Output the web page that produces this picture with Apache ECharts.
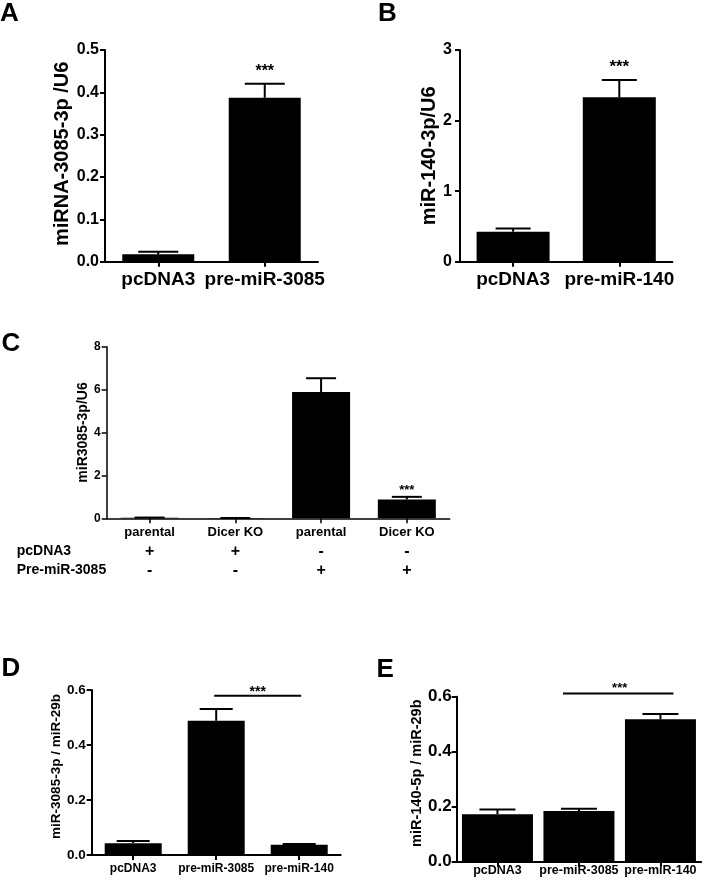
<!DOCTYPE html>
<html>
<head>
<meta charset="utf-8">
<script src="https://cdn.jsdelivr.net/npm/echarts@6/dist/echarts.min.js"></script>
<style>
html,body{margin:0;padding:0;background:#fff;}
#chart{width:708px;height:882px;}
</style>
</head>
<body>
<div id="chart"></div>
<script>
// ---------- DATA ----------
// Panel A
const catA = ['pcDNA3', 'pre-miR-3085'];
const meanA = [0.0175, 0.387];
const semA = [0.006, 0.033];
const starsA = ['', '***'];
const yTicksA = {min: 0, max: 0.5, interval: 0.1};
// Panel B
const catB = ['pcDNA3', 'pre-miR-140'];
const meanB = [0.425, 2.33];
const semB = [0.045, 0.245];
const starsB = ['', '***'];
const yTicksB = {min: 0, max: 3, interval: 1};
// Panel C
const catC = ['parental', 'Dicer KO', 'parental', 'Dicer KO'];
const meanC = [0.03, 0.01, 5.89, 0.88];
const semC = [0.005, 0.003, 0.64, 0.12];
const starsC = ['', '', '', '***'];
const rowTitlesC = ['pcDNA3', 'Pre-miR-3085'];
const rowPcDNA3 = ['+', '+', '-', '-'];
const rowPreMiR = ['-', '-', '+', '+'];
const yTicksC = {min: 0, max: 8, interval: 2};
// Panel D
const catD = ['pcDNA3', 'pre-miR-3085', 'pre-miR-140'];
const meanD = [0.043, 0.488, 0.037];
const semD = [0.008, 0.043, 0.003];
const sigD = [[1, 2, 0.579]];
const yTicksD = {min: 0, max: 0.6, interval: 0.2};
// Panel E
const catE = ['pcDNA3', 'pre-miR-3085', 'pre-miR-140'];
const meanE = [0.173, 0.184, 0.518];
const semE = [0.017, 0.009, 0.019];
const sigE = [[1, 2, 0.612]];
const yTicksE = {min: 0, max: 0.6, interval: 0.2};
// Labels
const panelLetters = ['A', 'B', 'C', 'D', 'E'];
const yTitles = ['miRNA-3085-3p /U6', 'miR-140-3p/U6', 'miR3085-3p/U6', 'miR-3085-3p / miR-29b', 'miR-140-5p / miR-29b'];

// ---------- RENDERING ----------
const FONT = "'Liberation Sans', Arial, Helvetica, sans-serif";
const chart = echarts.init(document.getElementById('chart'), null, {renderer: 'canvas'});

const panels = [
  {cat: catA, mean: meanA, sem: semA, stars: starsA, ticks: yTicksA, dec: 1,
   grid: {left: 105, top: 50, width: 213, height: 211.7},
   barW: 72, capW: 40, axisW: 2, tickFont: 16, catFont: 19, catMargin: 9, titleFont: 20, nameGap: 28,
   starFont: 16, starGap: 16, yMargin: 6, namePad: [0, 0, 0, 4]},
  {cat: catB, mean: meanB, sem: semB, stars: starsB, ticks: yTicksB, dec: 0,
   grid: {left: 460, top: 50, width: 212.4, height: 211.7},
   barW: 73, capW: 35, axisW: 2, tickFont: 16, catFont: 19, catMargin: 9, titleFont: 20, nameGap: 15,
   starFont: 17, starGap: 16.3, yMargin: 8, namePad: [0, 0, 0, 0]},
  {cat: catC, mean: meanC, sem: semC, stars: starsC, ticks: yTicksC, dec: 0,
   grid: {left: 106.7, top: 346.7, width: 343, height: 171.6},
   barW: 58, capW: 30, axisW: 1.5, tickFont: 12, catFont: 13, catMargin: 4, titleFont: 14, nameGap: 17,
   starFont: 13, starGap: 9.2, yMargin: 6, table: true, namePad: [0, 0, 0, 0]},
  {cat: catD, mean: meanD, sem: semD, stars: null, ticks: yTicksD, dec: 1, sig: sigD,
   grid: {left: 91.7, top: 690, width: 249, height: 165},
   barW: 57, capW: 33, axisW: 2, tickFont: 13.5, catFont: 12, catMargin: 8, titleFont: 13.5, nameGap: 27,
   starFont: 14, sigGap: 6.4, sigExt: [2, 2], yMargin: 6, namePad: [0, 0, 0, 12]},
  {cat: catE, mean: meanE, sem: semE, stars: null, ticks: yTicksE, dec: 1, sig: sigE,
   grid: {left: 456.7, top: 696.7, width: 244.5, height: 165},
   barW: 71, capW: 36, axisW: 2, tickFont: 17, catFont: 12.5, catMargin: 2, titleFont: 14.5, nameGap: 22,
   starFont: 13, sigGap: 8.3, sigExt: [16, 13], yMargin: 5, namePad: [0, 0, 0, 12]}
];

const grids = [], xAxes = [], yAxes = [], series = [];

panels.forEach((p, k) => {
  grids.push(Object.assign({containLabel: false}, p.grid));
  const xAxis = {
    type: 'category', gridIndex: k, data: p.cat,
    axisLine: {show: true, lineStyle: {color: '#000', width: p.axisW}},
    axisTick: {show: true, alignWithLabel: true, length: 5, lineStyle: {color: '#000', width: p.axisW}},
    axisLabel: {interval: 0, hideOverlap: false, margin: p.catMargin, color: '#000',
      fontFamily: FONT, fontWeight: 'bold', fontSize: p.catFont},
    splitLine: {show: false}
  };
  if (p.table) {
    xAxis.axisLabel.formatter = function (v, i) {
      return '{c|' + v + '}\n{s|' + rowPcDNA3[i] + '}\n{s|' + rowPreMiR[i] + '}';
    };
    xAxis.axisLabel.rich = {
      c: {fontFamily: FONT, fontWeight: 'bold', fontSize: p.catFont, lineHeight: 19.5, color: '#000'},
      s: {fontFamily: FONT, fontWeight: 'bold', fontSize: 16, lineHeight: 19.5, color: '#000'}
    };
  }
  xAxes.push(xAxis);
  yAxes.push({
    type: 'value', gridIndex: k, min: p.ticks.min, max: p.ticks.max, interval: p.ticks.interval,
    name: yTitles[k], nameLocation: 'middle', nameRotate: 90, nameGap: p.nameGap,
    nameTextStyle: {fontFamily: FONT, fontWeight: 'bold', fontSize: p.titleFont, color: '#000', padding: p.namePad},
    axisLine: {show: true, lineStyle: {color: '#000', width: p.axisW}},
    axisTick: {show: true, length: 5, lineStyle: {color: '#000', width: p.axisW}},
    axisLabel: {margin: p.yMargin, color: '#000', fontFamily: FONT, fontWeight: 'bold', fontSize: p.tickFont,
      formatter: v => v.toFixed(p.dec)},
    splitLine: {show: false}
  });
  series.push({
    type: 'bar', xAxisIndex: k, yAxisIndex: k, data: p.mean, barWidth: p.barW,
    itemStyle: {color: '#000'}, silent: true, animation: false
  });
  const stars = p.stars;
  series.push({
    type: 'custom', xAxisIndex: k, yAxisIndex: k, animation: false, silent: true,
    encode: {x: 0, y: 1},
    data: p.mean.map((m, i) => [i, m, p.sem[i]]),
    renderItem: function (params, api) {
      const i = api.value(0), m = api.value(1), e = api.value(2);
      const a = api.coord([i, m]), b = api.coord([i, m + e]);
      const ls = {stroke: '#000', lineWidth: 2};
      const ch = [
        {type: 'line', shape: {x1: a[0], y1: a[1], x2: b[0], y2: b[1]}, style: ls},
        {type: 'line', shape: {x1: b[0] - p.capW / 2, y1: b[1], x2: b[0] + p.capW / 2, y2: b[1]}, style: ls}
      ];
      if (stars && stars[i]) {
        ch.push({type: 'text', style: {text: stars[i], x: b[0], y: b[1] - p.starGap + 0.23 * p.starFont,
          align: 'center', verticalAlign: 'middle', fill: '#000',
          fontFamily: FONT, fontWeight: 'bold', fontSize: p.starFont}});
      }
      return {type: 'group', children: ch};
    }
  });
  if (p.sig) {
    series.push({
      type: 'custom', xAxisIndex: k, yAxisIndex: k, animation: false, silent: true, clip: false,
      encode: {x: [0, 1], y: 2},
      data: p.sig,
      renderItem: function (params, api) {
        const a = api.coord([api.value(0), api.value(2)]);
        const b = api.coord([api.value(1), api.value(2)]);
        return {type: 'group', children: [
          {type: 'line', shape: {x1: a[0] - p.sigExt[0], y1: a[1], x2: b[0] + p.sigExt[1], y2: b[1]},
           style: {stroke: '#000', lineWidth: 2}},
          {type: 'text', style: {text: '***', x: (a[0] + b[0]) / 2, y: a[1] - p.sigGap + 0.23 * p.starFont,
           align: 'center', verticalAlign: 'middle', fill: '#000',
           fontFamily: FONT, fontWeight: 'bold', fontSize: p.starFont}}
        ]};
      }
    });
  }
});

const letterPos = [[0, 14], [378, 14], [1.5, 344], [1.5, 669], [376.5, 670]];
const graphics = panelLetters.map((t, k) => ({
  type: 'text', x: letterPos[k][0], y: letterPos[k][1],
  style: {text: t, fill: '#000', fontFamily: FONT, fontWeight: 'bold', fontSize: 26,
    align: 'left', verticalAlign: 'middle'}
}));
const rowY = [551, 570];
rowTitlesC.forEach((t, r) => graphics.push({
  type: 'text', x: 16.7, y: rowY[r],
  style: {text: t, fill: '#000', fontFamily: FONT, fontWeight: 'bold', fontSize: 14,
    align: 'left', verticalAlign: 'middle'}
}));

chart.setOption({
  animation: false,
  backgroundColor: '#fff',
  grid: grids, xAxis: xAxes, yAxis: yAxes, series: series,
  graphic: graphics
});
</script>
</body>
</html>
